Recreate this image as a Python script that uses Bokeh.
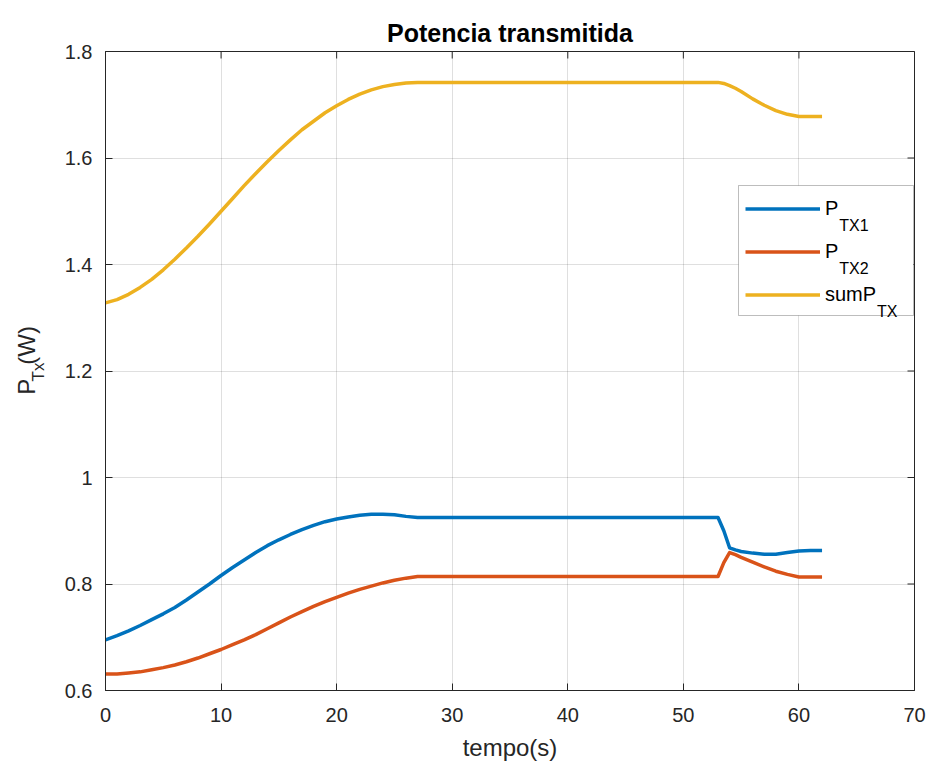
from math import pi

from bokeh.core.properties import value
from bokeh.embed import file_html
from bokeh.layouts import row
from bokeh.models import (BoxAnnotation, ColumnDataSource, FixedTicker, Label,
                          Legend, LegendItem, Range1d)
from bokeh.plotting import figure
from bokeh.resources import INLINE

# ---- data -----------------------------------------------------------------
tempo = [0, 1, 2, 3, 4, 5, 6, 7, 8, 9, 10, 11, 12, 13, 14, 15, 16, 17, 18, 19,
         20, 21, 22, 23, 24, 25, 26, 27, 30, 35, 40, 45, 50, 53, 53.5, 54,
         54.5, 55, 56, 57, 58, 59, 60, 61, 62]

p_tx1 = [0.695, 0.703, 0.712, 0.722, 0.733, 0.744, 0.756, 0.770, 0.785, 0.800,
         0.816, 0.831, 0.845, 0.859, 0.872, 0.883, 0.893, 0.902, 0.910, 0.917,
         0.922, 0.926, 0.929, 0.931, 0.931, 0.930, 0.927, 0.925, 0.925, 0.925,
         0.925, 0.925, 0.925, 0.925, 0.900, 0.868, 0.864, 0.861, 0.858, 0.856,
         0.856, 0.859, 0.862, 0.863, 0.863]

p_tx2 = [0.631, 0.631, 0.633, 0.635, 0.639, 0.643, 0.648, 0.654, 0.661, 0.669,
         0.677, 0.686, 0.695, 0.705, 0.716, 0.727, 0.738, 0.748, 0.758, 0.767,
         0.775, 0.783, 0.790, 0.796, 0.802, 0.807, 0.811, 0.814, 0.814, 0.814,
         0.814, 0.814, 0.814, 0.814, 0.840, 0.859, 0.855, 0.850, 0.841, 0.832,
         0.824, 0.818, 0.813, 0.813, 0.813]

sum_p_tx = [1.328, 1.334, 1.344, 1.357, 1.372, 1.390, 1.410, 1.431, 1.453, 1.476,
            1.500, 1.524, 1.548, 1.571, 1.593, 1.614, 1.634, 1.653, 1.669, 1.685,
            1.698, 1.710, 1.720, 1.728, 1.734, 1.738, 1.741, 1.742, 1.742, 1.742,
            1.742, 1.742, 1.742, 1.742, 1.740, 1.736, 1.731, 1.725, 1.711, 1.699,
            1.689, 1.682, 1.678, 1.678, 1.678]

x_ticks = [0, 10, 20, 30, 40, 50, 60, 70]
x_tick_labels = ["0", "10", "20", "30", "40", "50", "60", "70"]
y_ticks = [0.6, 0.8, 1.0, 1.2, 1.4, 1.6, 1.8]
y_tick_labels = ["0.6", "0.8", "1", "1.2", "1.4", "1.6", "1.8"]

legend_main = ["P", "P", "sumP"]
legend_sub = ["TX1", "TX2", "TX"]

# y-axis label pieces: text, size, baseline offset (P, subscript, units)
ylabel_text = ["P", "Tx", "(W)"]
ylabel_size = ["24px", "17px", "24px"]

# ---- style ------------------------------------------------------------------
FONT = "'Liberation Sans', Arial, Helvetica, sans-serif"
INK = "#262626"
BLUE, ORANGE, YELLOW = "#0072BD", "#D95319", "#EDB120"
LW = 3.5

W, H = 930, 767
YLAB_W = 50                     # strip on the left holding the y label
FRAME_L, FRAME_R, FRAME_T, FRAME_B = 105, 914, 51, 690   # frame edges on the page

p = figure(width=W - YLAB_W, height=H, output_backend="svg", toolbar_location=None,
           x_range=Range1d(0, 70), y_range=Range1d(0.6, 1.8),
           min_border_left=FRAME_L - YLAB_W, min_border_right=W - FRAME_R,
           min_border_top=FRAME_T, min_border_bottom=H - FRAME_B,
           background_fill_color="white", border_fill_color="white")
p.outline_line_color = INK
p.outline_line_width = 1

p.title.text = "Potencia transmitida"
p.title.align = "center"
p.title.text_font = FONT
p.title.text_font_size = "25px"
p.title.text_font_style = "bold"
p.title.text_color = "black"
p.title.standoff = 9

for ax, ticks, labels in ((p.xaxis[0], x_ticks, x_tick_labels),
                          (p.yaxis[0], y_ticks, y_tick_labels)):
    ax.ticker = FixedTicker(ticks=ticks)
    ax.major_label_overrides = dict(zip(ticks, labels))
    ax.major_tick_in = 7
    ax.major_tick_out = 0
    ax.minor_tick_in = 0
    ax.minor_tick_out = 0
    ax.axis_line_color = INK
    ax.major_tick_line_color = INK
    ax.major_label_text_font = FONT
    ax.major_label_text_font_size = "20px"
    ax.major_label_text_color = INK

p.xaxis.major_label_standoff = 17
p.yaxis.major_label_standoff = 13

p.xaxis.axis_label = "tempo(s)"
p.xaxis.axis_label_text_font = FONT
p.xaxis.axis_label_text_font_size = "24px"
p.xaxis.axis_label_text_font_style = "normal"
p.xaxis.axis_label_text_color = INK
p.xaxis.axis_label_standoff = 9

p.grid.grid_line_color = INK
p.grid.grid_line_alpha = 0.15

# mirrored ticks along the top and right edges (half of each dash is clipped)
p.scatter(x=x_ticks, y=[1.8] * len(x_ticks), marker="dash", size=14, angle=pi / 2,
          line_color=INK, line_width=1)
p.scatter(x=[70] * len(y_ticks), y=y_ticks, marker="dash", size=14,
          line_color=INK, line_width=1)

# ---- curves -----------------------------------------------------------------
src = ColumnDataSource(dict(t=tempo, p1=p_tx1, p2=p_tx2, s=sum_p_tx))
r1 = p.line("t", "p1", source=src, line_color=BLUE, line_width=LW, line_join="round")
r2 = p.line("t", "p2", source=src, line_color=ORANGE, line_width=LW, line_join="round")
r3 = p.line("t", "s", source=src, line_color=YELLOW, line_width=LW, line_join="round")


# ---- legend -----------------------------------------------------------------
def fx(x):
    """page x -> frame-relative screen x"""
    return x - FRAME_L


def fy(y):
    """page y -> frame-relative screen y (measured upward from the frame bottom)"""
    return FRAME_B - y


p.add_layout(BoxAnnotation(left=fx(738), right=fx(913), top=fy(185), bottom=fy(315),
                           left_units="screen", right_units="screen",
                           top_units="screen", bottom_units="screen",
                           fill_color="white", fill_alpha=1.0,
                           line_color=INK, line_width=1))

ITEM_H, ITEM_GAP = 23, 20
LEG_TOP = 208 - ITEM_H / 2
LEG_BOTTOM = LEG_TOP + 3 * ITEM_H + 2 * ITEM_GAP
legend = Legend(items=[LegendItem(label=value(t), renderers=[r])
                       for t, r in zip(legend_main, (r1, r2, r3))],
                location=(fx(745), round(fy(LEG_BOTTOM))), orientation="vertical",
                glyph_width=75, glyph_height=ITEM_H, label_height=ITEM_H,
                spacing=ITEM_GAP, padding=0, margin=0, label_standoff=5,
                label_text_font=FONT, label_text_font_size="20px",
                label_text_color="black",
                background_fill_alpha=0, border_line_alpha=0)
p.add_layout(legend)

main_widths = [13.3, 13.3, 51.1]
for i, (sub, w) in enumerate(zip(legend_sub, main_widths)):
    line_y = 208 + (ITEM_H + ITEM_GAP) * i
    p.add_layout(Label(x=fx(825 + w + 0.5), y=fy(line_y + 17), x_units="screen",
                       y_units="screen", text=sub, text_font=FONT,
                       text_font_size="16px", text_color="black",
                       text_baseline="alphabetic", text_align="left"))

# ---- y label strip ----------------------------------------------------------------
ylab = figure(width=YLAB_W, height=H, output_backend="svg", toolbar_location=None,
              x_range=Range1d(0, YLAB_W), y_range=Range1d(0, H),
              min_border=0, x_axis_location=None, y_axis_location=None,
              background_fill_color="white", border_fill_color="white")
ylab.outline_line_color = None
ylab.grid.visible = False

# positions in strip pixels (y measured upward from the bottom)
ylab_src = ColumnDataSource(dict(x=[26, 38, 26], y=[H - 412, H - 396, H - 376],
                                 text=ylabel_text, size=ylabel_size))
ylab.text(x="x", y="y", text="text", source=ylab_src, angle=pi / 2,
          text_font=value(FONT), text_font_size="size", text_color=INK,
          text_align="left", text_baseline="alphabetic")

layout = row(ylab, p)
open("out.html", "w").write(file_html(layout, INLINE))
